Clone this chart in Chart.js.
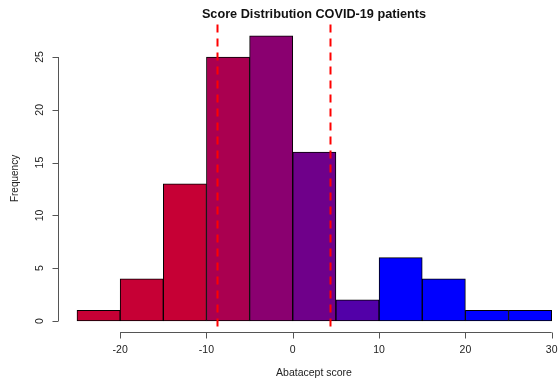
<!DOCTYPE html>
<html>
<head>
<meta charset="utf-8">
<script src="https://cdn.jsdelivr.net/npm/chart.js@4/dist/chart.umd.min.js"></script>
<style>
  html, body { margin: 0; padding: 0; background: #fff; }
  #wrap { width: 558px; height: 383px; }
</style>
</head>
<body>
<div id="wrap"><canvas id="hist" width="558" height="383"></canvas></div>
<script>
// histogram bins (width 5) and counts
const binStarts = [-25, -20, -15, -10, -5, 0, 5, 10, 15, 20, 25];
const counts = [1, 4, 13, 25, 27, 16, 2, 6, 4, 1, 1];
const binColors = ['#c60035', '#c60035', '#c60035', '#aa0050', '#8a0070', '#6f008a', '#5200a8',
  '#0000ff', '#0000ff', '#0000ff', '#0000ff'];
const xTicks = [-20, -10, 0, 10, 20, 30];
const yTicks = [0, 5, 10, 15, 20, 25];
const cutoffs = [-8.76, 4.3];
const BIN_W = 5;

const FONT = '"Liberation Sans", Arial, Helvetica, sans-serif';

// R-style axes, title and cut-off lines
const rAxes = {
  id: 'rAxes',
  afterDatasetsDraw(chart) {
    const { ctx, chartArea, scales: { x, y } } = chart;
    ctx.save();

    // dashed cut-off lines
    ctx.strokeStyle = '#ff0000';
    ctx.lineWidth = 2;
    ctx.setLineDash([8, 6]);
    cutoffs.forEach(v => {
      const px = Math.round(x.getPixelForValue(v)) + 0.5;
      ctx.beginPath();
      ctx.moveTo(px, chartArea.top);
      ctx.lineTo(px, chartArea.bottom);
      ctx.stroke();
    });
    ctx.setLineDash([]);

    ctx.strokeStyle = '#555';
    ctx.lineWidth = 1;
    ctx.fillStyle = '#222';

    // x axis
    const ax = Math.round(chartArea.bottom) + 0.5;
    ctx.beginPath();
    ctx.moveTo(x.getPixelForValue(xTicks[0]), ax);
    ctx.lineTo(x.getPixelForValue(xTicks[xTicks.length - 1]), ax);
    xTicks.forEach(t => {
      const px = Math.round(x.getPixelForValue(t)) + 0.5;
      ctx.moveTo(px, ax);
      ctx.lineTo(px, ax + 6);
    });
    ctx.stroke();
    ctx.font = '10.5px ' + FONT;
    ctx.textAlign = 'center';
    ctx.textBaseline = 'middle';
    xTicks.forEach(t => ctx.fillText(String(t), x.getPixelForValue(t), 350));
    ctx.fillText('Abatacept score', (chartArea.left + 570) / 2, 373);

    // y axis
    const ay = Math.round(chartArea.left) + 0.5;
    ctx.beginPath();
    ctx.moveTo(ay, y.getPixelForValue(yTicks[0]));
    ctx.lineTo(ay, y.getPixelForValue(yTicks[yTicks.length - 1]));
    yTicks.forEach(t => {
      const py = Math.round(y.getPixelForValue(t)) + 0.5;
      ctx.moveTo(ay, py);
      ctx.lineTo(ay - 6, py);
    });
    ctx.stroke();
    yTicks.forEach(t => {
      ctx.save();
      ctx.translate(40, y.getPixelForValue(t));
      ctx.rotate(-Math.PI / 2);
      ctx.fillText(String(t), 0, 0);
      ctx.restore();
    });
    ctx.save();
    ctx.translate(15, (chartArea.top + chartArea.bottom) / 2);
    ctx.rotate(-Math.PI / 2);
    ctx.font = '10px ' + FONT;
    ctx.fillText('Frequency', 0, 0);
    ctx.restore();

    // title
    ctx.fillStyle = '#111';
    ctx.font = 'bold 12.7px ' + FONT;
    ctx.fillText('Score Distribution COVID-19 patients', (chartArea.left + 570) / 2, 14);

    ctx.restore();
  }
};

new Chart(document.getElementById('hist'), {
  type: 'bar',
  data: {
    datasets: [{
      data: binStarts.map((s, i) => ({ x: s + BIN_W / 2, y: counts[i] })),
      backgroundColor: binColors,
      borderColor: '#000',
      borderWidth: 1,
      borderSkipped: false,
      barPercentage: 1,
      categoryPercentage: 1
    }]
  },
  options: {
    responsive: false,
    animation: false,
    layout: { padding: { left: 58, right: 0, top: 24.5, bottom: 50.6 } },
    plugins: { legend: { display: false }, tooltip: { enabled: false } },
    scales: {
      x: {
        type: 'linear', display: false, offset: false, min: -27.2, max: 30.73,
        afterBuildTicks: s => { s.ticks = xTicks.map(v => ({ value: v })); }
      },
      y: {
        display: false, min: -1.08, max: 28.08,
        afterBuildTicks: s => { s.ticks = yTicks.map(v => ({ value: v })); }
      }
    }
  },
  plugins: [rAxes]
});
</script>
</body>
</html>
